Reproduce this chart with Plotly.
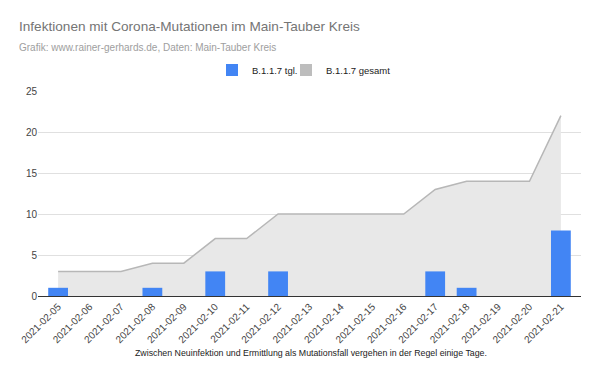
import plotly.graph_objects as go

dates = ["2021-02-05", "2021-02-06", "2021-02-07", "2021-02-08", "2021-02-09",
         "2021-02-10", "2021-02-11", "2021-02-12", "2021-02-13", "2021-02-14",
         "2021-02-15", "2021-02-16", "2021-02-17", "2021-02-18", "2021-02-19",
         "2021-02-20", "2021-02-21"]
daily = [1, 0, 0, 1, 0, 3, 0, 3, 0, 0, 0, 0, 3, 1, 0, 0, 8]
total = [3, 3, 3, 4, 4, 7, 7, 10, 10, 10, 10, 10, 13, 14, 14, 14, 22]

FONT = "Liberation Sans, Arial, sans-serif"
BLUE = "#4285f4"
GRAY_LINE = "#b7b7b7"
GRAY_FILL = "#e8e8e8"

# page offset (body margin) is 8px
OFF = 8
L, T, PW, PH = 38 - OFF, 91 - OFF, 543, 205
W, H = 600, 376

fig = go.Figure()
fig.add_trace(go.Bar(x=dates, y=daily, name="B.1.1.7 tgl.", marker_color=BLUE,
                     marker_line_width=0, yaxis="y2", legend="legend"))
fig.add_trace(go.Scatter(x=dates, y=total, name="B.1.1.7 gesamt", mode="lines",
                         fill="tozeroy", line=dict(color=GRAY_LINE, width=1.5),
                         fillcolor=GRAY_FILL, showlegend=False))
# legend-only square for the area series
fig.add_trace(go.Bar(x=[dates[0]], y=[None], name="B.1.1.7 gesamt", marker_color="#bdbdbd",
                     marker_line_width=0, yaxis="y2", legend="legend2"))

def px_x(x):
    return (x - 38) / PW

def px_y(y):
    return (296 - y) / PH

leg_common = dict(orientation="h", xanchor="left", yanchor="middle",
                  font=dict(size=9.5, color="#222", family=FONT), bgcolor="rgba(0,0,0,0)")

n = len(dates)
pad = 0.14

fig.update_layout(
    width=W, height=H,
    margin=dict(l=L, r=W - L - PW, t=T, b=H - T - PH),
    paper_bgcolor="white", plot_bgcolor="white",
    font=dict(family=FONT, size=10, color="#444"),
    bargap=0.37,
    barmode="overlay",
    showlegend=True,
    legend=dict(x=px_x(212), y=px_y(70), **leg_common),
    legend2=dict(x=px_x(286), y=px_y(70), **leg_common),
    xaxis=dict(type="category", tickangle=-45, showgrid=False, showline=True,
               range=[-0.5 - pad, n - 0.5 + pad],
               linecolor="#333", linewidth=1, ticks="", automargin=False,
               tickfont=dict(size=10, color="#444")),
    yaxis=dict(range=[0, 25], dtick=5, showgrid=True, gridcolor="#e0e0e0", zeroline=False,
               ticks="", automargin=False, tickfont=dict(size=10, color="#444")),
    yaxis2=dict(range=[0, 25], overlaying="y", showgrid=False, showticklabels=False,
                zeroline=False, ticks="", automargin=False),
    annotations=[
        dict(text="Infektionen mit Corona-Mutationen im Main-Tauber Kreis", xref="paper", yref="paper",
             x=px_x(17), y=px_y(27), xanchor="left", yanchor="middle",
             showarrow=False, font=dict(size=13.6, color="#757575", family=FONT)),
        dict(text="Grafik: www.rainer-gerhards.de, Daten: Main-Tauber Kreis", xref="paper", yref="paper",
             x=px_x(17), y=px_y(47), xanchor="left", yanchor="middle",
             showarrow=False, font=dict(size=10, color="#9e9e9e", family=FONT)),
        dict(text="Zwischen Neuinfektion und Ermittlung als Mutationsfall vergehen in der Regel einige Tage.",
             xref="paper", yref="paper", x=px_x(311), y=px_y(353),
             xanchor="center", yanchor="middle", showarrow=False,
             font=dict(size=8.8, color="#222", family=FONT)),
    ],
)

fig.write_html("out.html")
